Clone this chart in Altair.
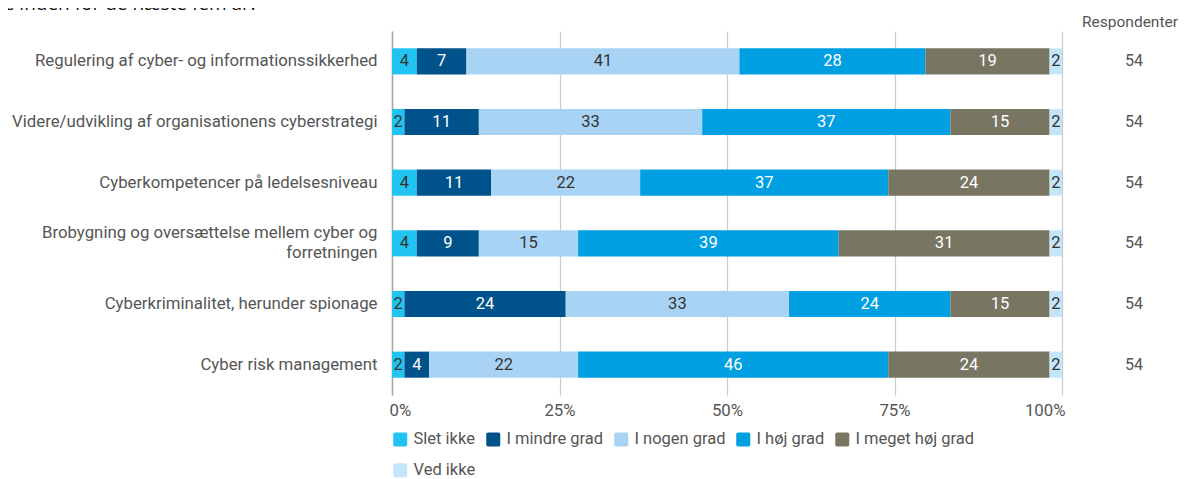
import altair as alt
import pandas as pd

items = [
    "Regulering af cyber- og informationssikkerhed",
    "Videre/udvikling af organisationens cyberstrategi",
    "Cyberkompetencer på ledelsesniveau",
    "Brobygning og oversættelse mellem cyber og forretningen",
    "Cyberkriminalitet, herunder spionage",
    "Cyber risk management",
]
levels = ["Slet ikke", "I mindre grad", "I nogen grad", "I høj grad", "I meget høj grad", "Ved ikke"]
colors = ["#21c4f0", "#00538a", "#a8d3f4", "#009fe1", "#787562", "#c5e6fa"]

# respondent counts per answer (54 respondents per item)
slet_ikke = [2, 1, 2, 2, 1, 1]
i_mindre_grad = [4, 6, 6, 5, 13, 2]
i_nogen_grad = [22, 18, 12, 8, 18, 12]
i_hoej_grad = [15, 20, 20, 21, 13, 25]
i_meget_hoej_grad = [10, 8, 13, 17, 8, 13]
ved_ikke = [1, 1, 1, 1, 1, 1]

title_text = "Hvilke emner vil fylde mest i jeres arbejde inden for de næste fem år?"
resp_header = "Respondenter"

series = [slet_ikke, i_mindre_grad, i_nogen_grad, i_hoej_grad, i_meget_hoej_grad, ved_ikke]
rows = []
for li, (lvl, vals) in enumerate(zip(levels, series)):
    for item, v in zip(items, vals):
        rows.append({"item": item, "level": lvl, "order": li, "n": v})
df = pd.DataFrame(rows)

FONT = "Roboto"
GREY = "#555555"
FS = 16.8

y_enc = alt.Y(
    "item:N",
    sort=items,
    title=None,
    scale=alt.Scale(paddingInner=0.57, paddingOuter=0.285),
    axis=alt.Axis(
        labelFont=FONT,
        labelFontSize=FS,
        labelColor=GREY,
        labelLimit=500,
        labelPadding=15,
        labelLineHeight=20,
        labelOffset={"condition": {"test": "indexof(datum.value, 'forretningen') > 0", "value": -10}, "value": 0},
        ticks=False,
        domainColor="#a6a6a6",
        domainWidth=1.5,
        grid=False,
        labelExpr="indexof(datum.value, 'forretningen') > 0 ? ['Brobygning og oversættelse mellem cyber og', 'forretningen'] : datum.value",
    ),
)

base = (
    alt.Chart(df)
    .transform_joinaggregate(total="sum(n)", groupby=["item"])
    .transform_window(cum="sum(n)", sort=[alt.SortField("order")], groupby=["item"], frame=[None, 0])
    .transform_calculate(
        start="(datum.cum - datum.n) / datum.total",
        end="datum.cum / datum.total",
        mid="(datum.cum - datum.n / 2) / datum.total",
        label="format(datum.n / datum.total * 100, '.0f')",
    )
)

x_enc = alt.X(
    "start:Q",
    title=None,
    scale=alt.Scale(domain=[0, 1], nice=False),
    axis=alt.Axis(
        format="%",
        values=[0, 0.25, 0.5, 0.75, 1],
        labelFont=FONT,
        labelFontSize=FS,
        labelColor=GREY,
        labelPadding=7,
        labelFlush=True,
        labelFlushOffset=3,
        ticks=False,
        domain=False,
        gridColor="#cccccc",
        gridWidth=1.2,
    ),
)

rounded_square = "M-0.75,-1H0.75Q1,-1 1,-0.75V0.75Q1,1 0.75,1H-0.75Q-1,1 -1,0.75V-0.75Q-1,-1 -0.75,-1Z"

bars = base.mark_bar().encode(
    y=y_enc,
    x=x_enc,
    x2="end:Q",
    color=alt.Color(
        "level:N",
        sort=levels,
        scale=alt.Scale(domain=levels, range=colors),
        legend=alt.Legend(
            title=None,
            orient="bottom",
            direction="horizontal",
            columns=5,
            symbolType=rounded_square,
            symbolSize=196,
            symbolStrokeWidth=0,
            labelFont=FONT,
            labelFontSize=16.5,
            labelColor=GREY,
            labelOffset=5,
            columnPadding=9,
            rowPadding=14,
            offset=12,
            padding=0,
        ),
    ),
)

labels = base.mark_text(font=FONT, fontSize=16.5).encode(
    y=alt.Y("item:N", sort=items),
    x=alt.X("mid:Q"),
    text="label:N",
    color=alt.condition(
        "indexof(['I mindre grad', 'I høj grad', 'I meget høj grad'], datum.level) >= 0",
        alt.value("white"),
        alt.value("#333333"),
    ),
)

resp = (
    alt.Chart(df)
    .transform_aggregate(total="sum(n)", groupby=["item"])
    .mark_text(font=FONT, fontSize=16, color=GREY)
    .encode(y=alt.Y("item:N", sort=items), x=alt.value(742), text="total:Q")
)

header = (
    alt.Chart(pd.DataFrame({"t": [resp_header]}))
    .mark_text(font=FONT, fontSize=15.5, color=GREY)
    .encode(x=alt.value(738), y=alt.value(-9), text="t:N")
)

title = (
    alt.Chart(pd.DataFrame({"t": [title_text]}))
    .mark_text(font="Open Sans", fontSize=19, color="#111111", align="right", baseline="alphabetic")
    .encode(x=alt.value(-134), y=alt.value(-21), text="t:N")
)

chart = (
    alt.layer(bars, labels, resp, header, title)
    .properties(
        width=670,
        height=364,
        autosize=alt.AutoSizeParams(type="none"),
        padding={"left": 384, "top": 23, "right": 116, "bottom": 86},
    )
    .configure_view(stroke=None)
)

chart.save("out.html", embed_options={"renderer": "svg", "actions": False})
